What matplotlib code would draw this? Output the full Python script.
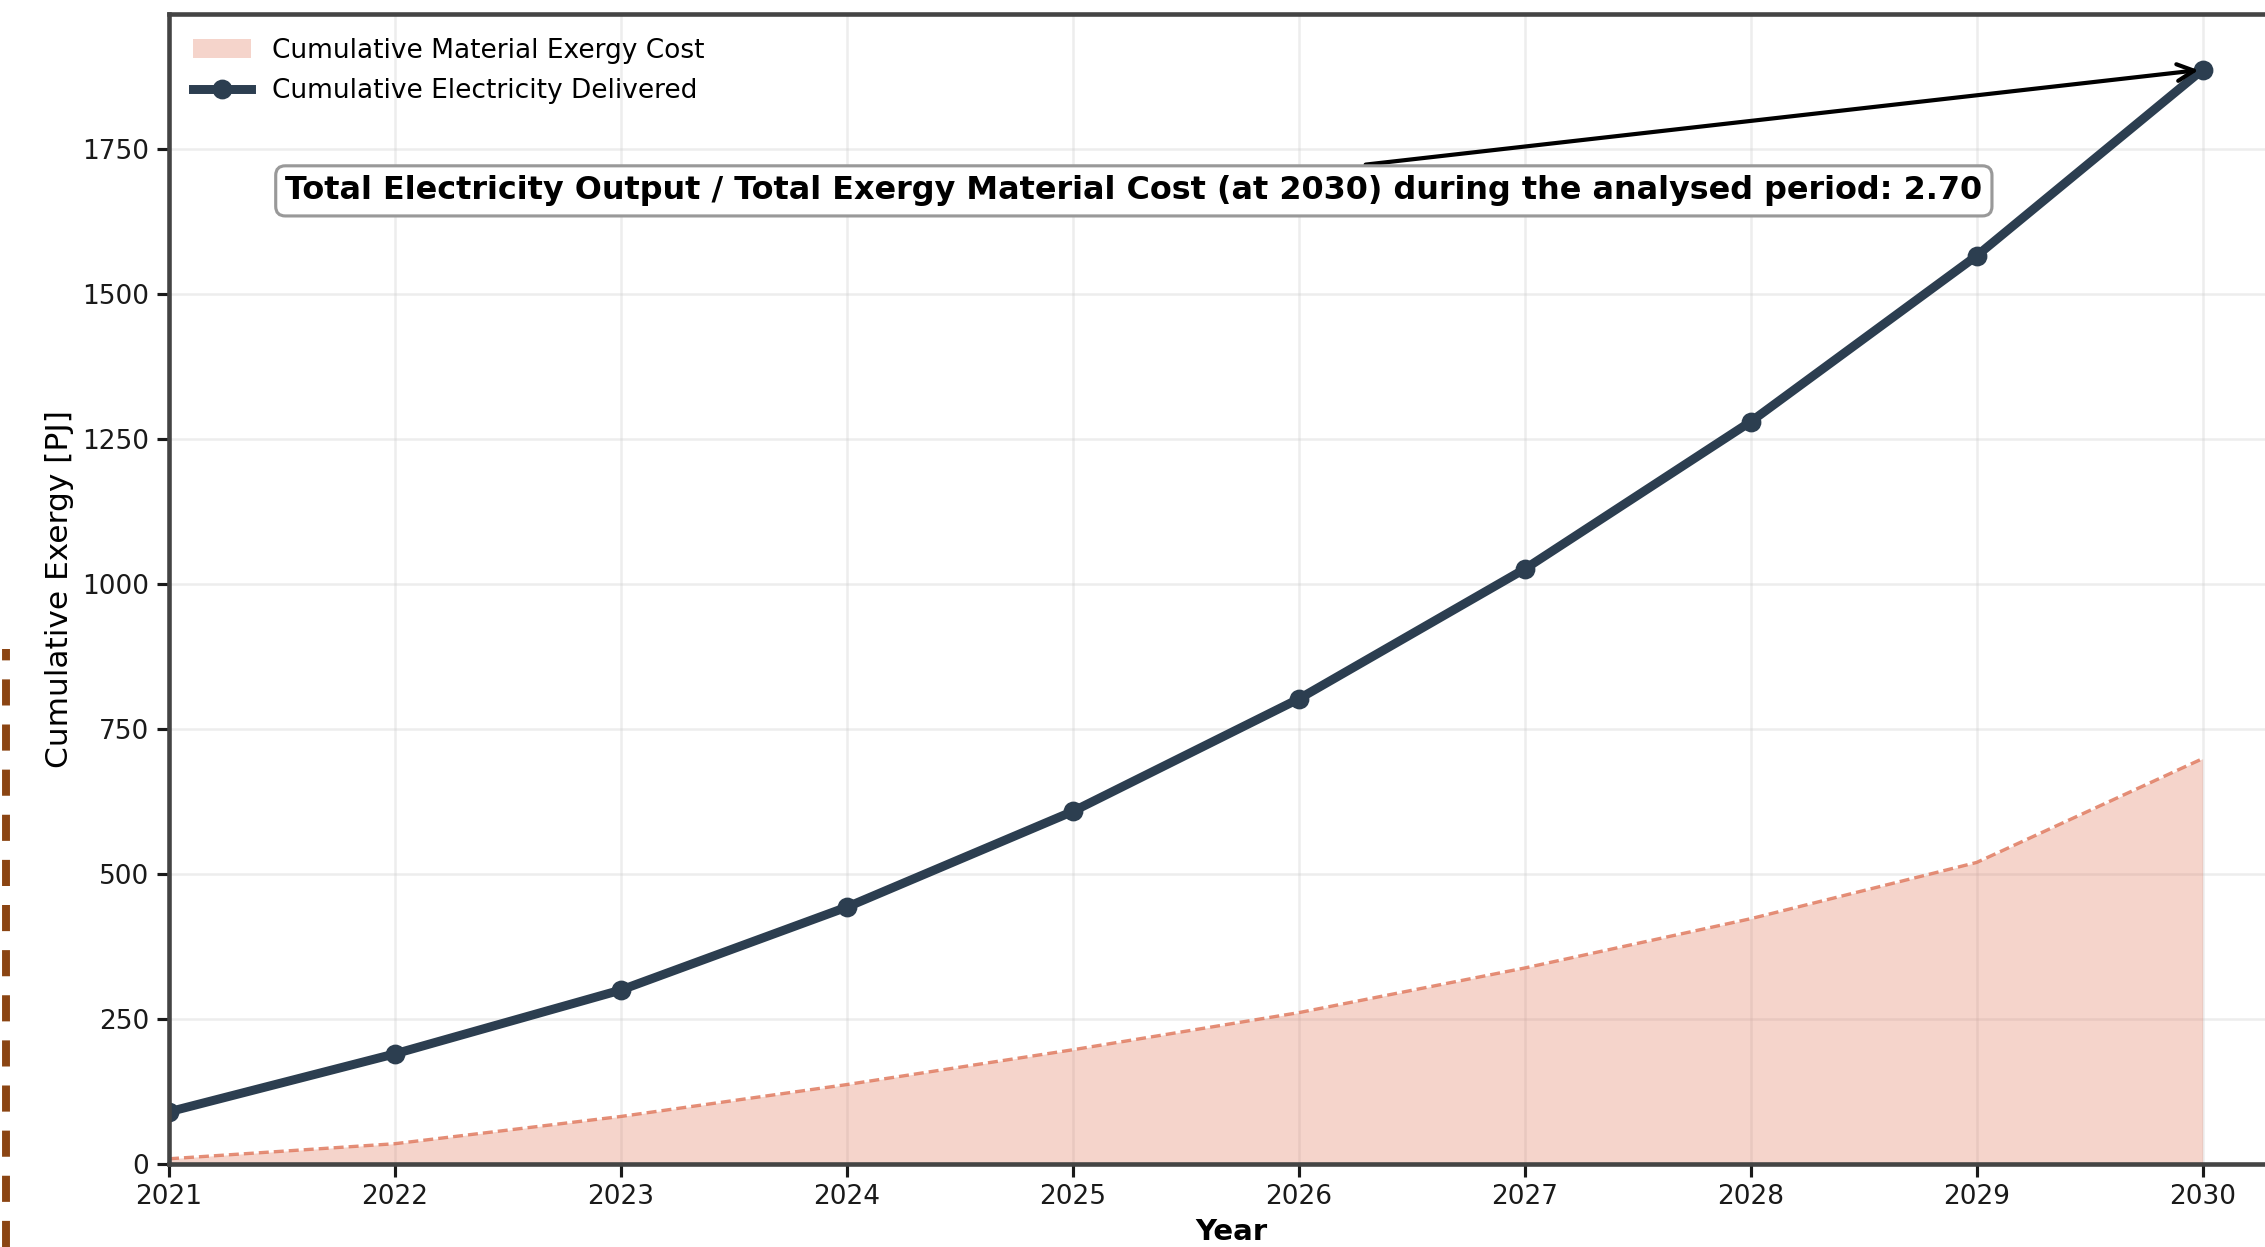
import matplotlib
matplotlib.use("Agg")
import matplotlib.pyplot as plt
from matplotlib.lines import Line2D

years = [2021, 2022, 2023, 2024, 2025, 2026, 2027, 2028, 2029, 2030]
electricity = [90, 190, 300, 443, 608, 802, 1026, 1280, 1566, 1887]
material = [9, 35, 82, 137, 197, 261, 338, 423, 520, 699]
ratio_text = "Total Electricity Output / Total Exergy Material Cost (at 2030) during the analysed period: 2.70"
ylabel = "Cumulative Exergy [PJ]"
xlabel = "Year"
yticks = [0, 250, 500, 750, 1000, 1250, 1500, 1750]

plt.rcParams['font.family'] = ['DejaVu Sans']
W, H, DPI = 2265, 1247, 150
fig = plt.figure(figsize=(W / DPI, H / DPI), dpi=DPI)
ax = fig.add_axes([169 / W, 1 - 1164 / H, (2293 - 169) / W, (1164 - 14) / H])

ax.fill_between(years, material, color='#E07A5F', alpha=0.32, linewidth=0,
                label='Cumulative Material Exergy Cost')
ax.plot(years, material, color='#E07A5F', linestyle=(0, (3, 1.5)), linewidth=1.6, alpha=0.85)
ax.plot(years, electricity, color='#2C3E50', linewidth=4.3, marker='o', markersize=8.5,
        label='Cumulative Electricity Delivered')

ax.set_xlim(2021, 2030.4)
ax.set_ylim(0, 1983)
ax.set_xticks(years)
ax.set_yticks(yticks)
ax.tick_params(axis='both', labelsize=12.7, length=6, width=1.5, colors='#1a1a1a')
ax.grid(True, color='#cccccc', alpha=0.35, linewidth=1.2)
ax.set_axisbelow(True)
for sp in ax.spines.values():
    sp.set_linewidth(2.2)
    sp.set_color('#444444')

ax.set_ylabel(ylabel, fontsize=15)
ax.set_xlabel(xlabel, fontsize=14, fontweight='bold', labelpad=4)

ax.annotate(ratio_text, xy=(years[-1], electricity[-1]), xytext=(2025.27, 1678),
            fontsize=15.3, fontweight='bold', ha='center', va='center',
            bbox=dict(boxstyle='round,pad=0.3', facecolor='white', edgecolor='#999999', linewidth=1.5),
            arrowprops=dict(arrowstyle='->', color='black', linewidth=2, mutation_scale=20))

leg = ax.legend(loc='upper left', fontsize=12.7, frameon=False, bbox_to_anchor=(0.0, 1.0),
                labelspacing=0.55, handlelength=2.2)

# dashed decorative line at the left edge
fig.add_artist(Line2D([6 / W, 6 / W], [0, 1 - 649 / H], transform=fig.transFigure,
                      color='#8B4513', linewidth=3.8, dashes=(3.3, 2.4)))

fig.savefig('out.png', dpi=DPI)
